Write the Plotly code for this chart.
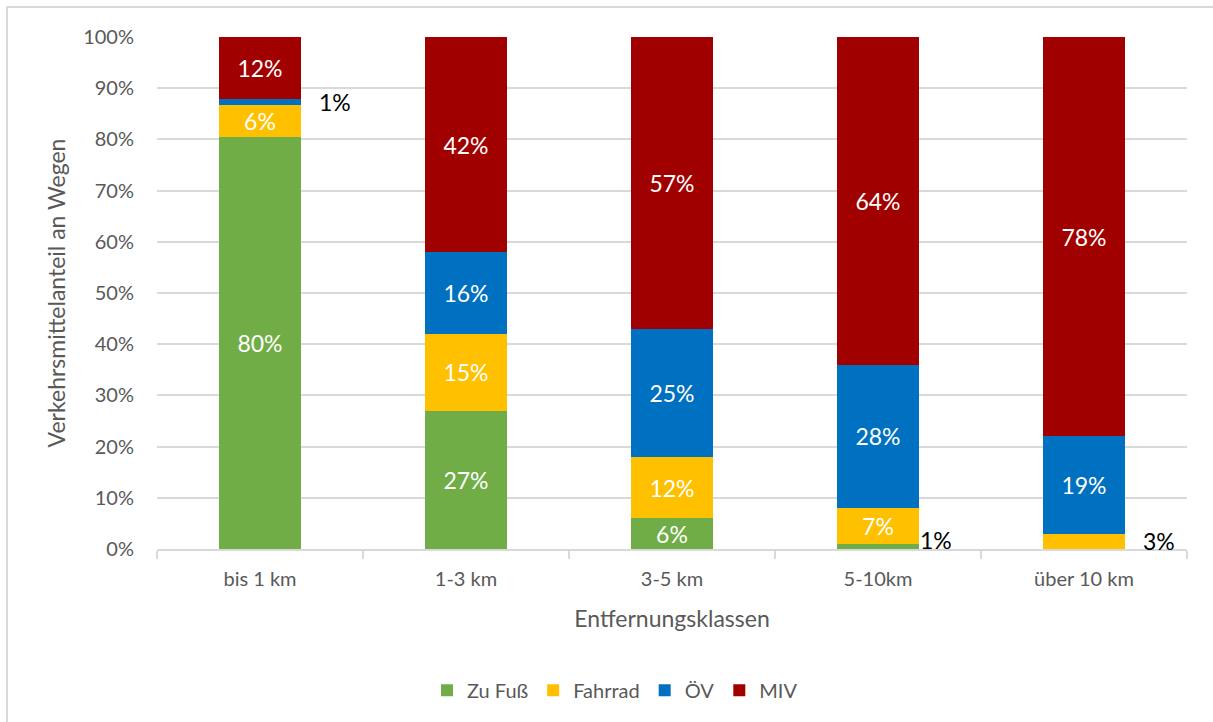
# Verkehrsmittelanteil nach Entfernungsklassen - gestapelte Säulen
import plotly.graph_objects as go

kategorien = ["bis 1 km", "1-3 km", "3-5 km", "5-10km", "über 10 km"]
zu_fuss = [80.4, 27, 6, 1, 0]
fahrrad = [6.4, 15, 12, 7, 3]
oev = [1.1, 16, 25, 28, 19]
miv = [12.1, 42, 57, 64, 78]

serien = [
    ("Zu Fuß", zu_fuss, "#70AD47"),
    ("Fahrrad", fahrrad, "#FFC000"),
    ("ÖV", oev, "#0070C0"),
    ("MIV", miv, "#A00000"),
]

FONT = "Lato, 'Open Sans', sans-serif"
GRAU = "#595959"
LINIE = "#D9D9D9"
LABEL = 23

fig = go.Figure()
annotations = []
basis = [0] * len(kategorien)

for name, werte, farbe in serien:
    # kleine Anteile (< 4 %) stehen außen rechts neben der Säule
    texte = []
    for i, v in enumerate(werte):
        if v >= 4:
            texte.append(f"{v:.0f}%")
        else:
            texte.append("")
            if v > 0:
                annotations.append(dict(
                    x=kategorien[i], y=basis[i] + v / 2, xref="x", yref="y",
                    text=f"{v:.0f}%", showarrow=False, xanchor="left",
                    xshift=57 if i != 3 else 40, yshift=0 if i != 3 else 6,
                    font=dict(family=FONT, size=LABEL, color="black"),
                ))
        basis[i] += v
    fig.add_trace(go.Bar(
        name=name, x=kategorien, y=werte, marker_color=farbe,
        marker_line_width=0, text=texte, textposition="inside",
        insidetextanchor="middle",
        textfont=dict(family=FONT, size=LABEL, color="white"),
    ))

# Rahmen um das gesamte Diagramm (rechts und unten außerhalb des Bildes)
fig.add_shape(type="rect", xref="paper", yref="paper",
              x0=-0.1456, x1=1.06, y0=-0.36, y1=1.0586,
              line=dict(color=LINIE, width=2), layer="below")

fig.update_layout(
    barmode="stack",
    bargap=0.6,
    width=1213, height=722,
    margin=dict(l=157, r=26, t=37, b=173, autoexpand=False),
    plot_bgcolor="white", paper_bgcolor="white",
    font=dict(family=FONT, size=20, color=GRAU),
    uniformtext=dict(mode="show", minsize=LABEL),
    annotations=annotations,
    showlegend=True,
    legend=dict(orientation="h", xref="container", yref="container",
                x=0.507, y=0.044, xanchor="center", yanchor="middle",
                font=dict(size=20, color=GRAU), traceorder="normal"),
    xaxis=dict(
        title=dict(text="Entfernungsklassen", font=dict(size=23, color=GRAU), standoff=22),
        showline=True, linecolor=LINIE, linewidth=2, automargin=False,
        ticks="outside", tickson="boundaries", ticklen=8, tickcolor=LINIE, tickwidth=2,
        ticklabelstandoff=11,
    ),
    yaxis=dict(
        title=dict(text="Verkehrsmittelanteil an Wegen", font=dict(size=23, color=GRAU), standoff=11),
        range=[0, 100], dtick=10, ticksuffix="%", automargin=False,
        showgrid=True, gridcolor=LINIE, gridwidth=2,
        zeroline=False, showline=False, ticklabelstandoff=22,
    ),
)

# Seitenrand entfernen, damit das Diagramm bündig oben links sitzt
fig.write_html("out.html", config={"displayModeBar": False},
               post_script="document.body.style.margin='0';")
